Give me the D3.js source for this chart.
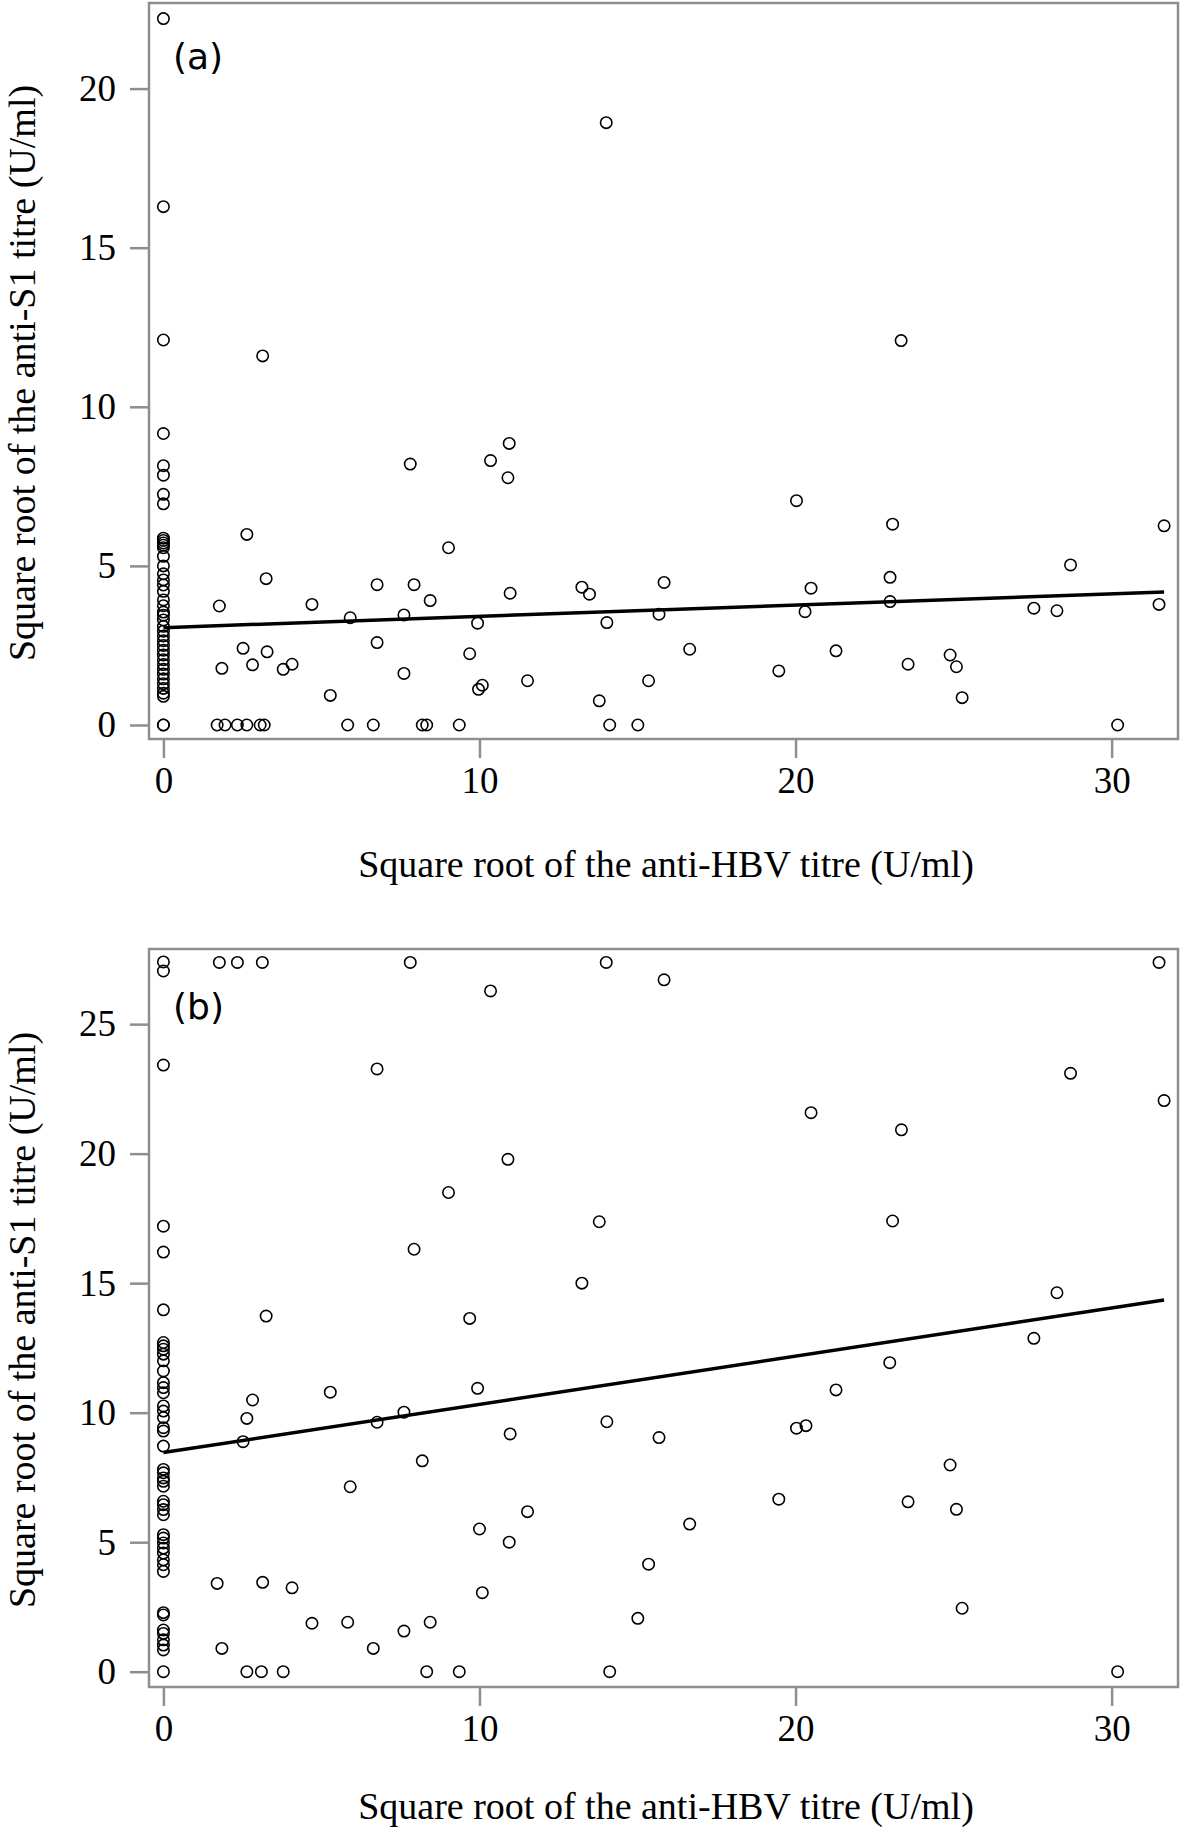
<!DOCTYPE html>
<html>
<head>
<meta charset="utf-8">
<script src="https://cdn.jsdelivr.net/npm/d3@7"></script>
<style>
  html, body { margin: 0; padding: 0; background: #fff; }
  svg { display: block; }
</style>
</head>
<body>
<div id="chart"></div>
<script>
// ---------- DATA ----------
const xTicks = [0, 10, 20, 30];
const yTicksA = [0, 5, 10, 15, 20];
const yTicksB = [0, 5, 10, 15, 20, 25];
const panelLabels = ["(a)", "(b)"];
const xTitle = "Square root of the anti-HBV titre (U/ml)";
const yTitle = "Square root of the anti-S1 titre (U/ml)";

// subjects with anti-HBV = 0 (x = 0 column)
const s1ZeroA = [22.2, 16.29, 12.1, 9.16, 8.15, 7.85, 7.25, 6.95, 5.87, 5.8, 5.72, 5.65, 5.57, 5.3, 5.0,
  4.75, 4.56, 4.4, 4.2, 3.93, 3.75, 3.55, 3.45, 3.3, 3.1, 2.95, 2.8, 2.65, 2.5, 2.35, 2.2, 2.05, 1.9,
  1.75, 1.6, 1.45, 1.3, 1.15, 1.0, 0.9, 0, 0];
const s1ZeroB = [27.4, 27.05, 23.42, 17.2, 16.2, 13.97, 12.71, 12.58, 12.45, 12.26, 12.0, 11.61, 11.16,
  10.97, 10.77, 10.26, 10.06, 9.81, 9.42, 9.29, 8.71, 7.81, 7.68, 7.48, 7.35, 7.16, 6.58, 6.45, 6.26,
  6.06, 5.29, 5.16, 4.97, 4.77, 4.58, 4.32, 4.13, 3.87, 2.28, 2.19, 1.61, 1.48, 1.23, 1.03, 0.84, 0];

// panel (a): anti-HBV > 0
const hbvA = [1.70, 1.77, 1.85, 1.95, 2.34, 2.52, 2.64, 2.64, 2.82, 3.06, 3.14, 3.19, 3.25, 3.28, 3.79,
  4.07, 4.70, 5.28, 5.83, 5.91, 6.64, 6.76, 6.76, 7.61, 7.61, 7.81, 7.93, 8.19, 8.33, 8.44, 9.02, 9.36,
  9.69, 9.94, 9.97, 10.09, 10.35, 10.90, 10.94, 10.97, 11.52, 13.24, 13.48, 13.79, 14.01, 14.03, 14.12,
  15.01, 15.35, 15.68, 15.84, 16.65, 19.47, 20.03, 20.30, 20.49, 21.28, 22.99, 22.99, 23.07, 23.34,
  23.56, 24.89, 25.09, 25.27, 27.54, 28.27, 28.70, 30.19, 31.50, 31.66];
const s1A = [0, 3.74, 1.78, 0, 0, 2.41, 5.99, 0, 1.89, 0, 11.6, 0, 4.6, 2.3, 1.75,
  1.91, 3.79, 0.93, 0, 3.37, 0, 4.41, 2.59, 3.46, 1.62, 8.2, 4.41, 0, 0, 3.91, 5.57, 0,
  2.24, 3.2, 1.12, 1.25, 8.31, 7.77, 8.85, 4.14, 1.39, 4.33, 4.11, 0.76, 18.93, 3.22, 0,
  0, 1.39, 3.48, 4.48, 2.38, 1.7, 7.05, 3.56, 4.3, 2.33, 4.64, 3.88, 6.31, 12.08,
  1.91, 2.2, 1.83, 0.86, 3.67, 3.59, 5.03, 0, 3.79, 6.26];

// panel (b): anti-HBV > 0
const hbvB = [1.70, 1.77, 1.85, 2.34, 2.52, 2.64, 2.64, 2.82, 3.10, 3.13, 3.14, 3.25, 3.79, 4.07, 4.70,
  5.28, 5.83, 5.91, 6.64, 6.76, 6.76, 7.61, 7.61, 7.81, 7.93, 8.19, 8.33, 8.44, 9.02, 9.36, 9.69, 9.94,
  10.00, 10.09, 10.35, 10.90, 10.94, 10.97, 11.52, 13.24, 13.79, 14.01, 14.03, 14.12, 15.01, 15.35,
  15.68, 15.84, 16.65, 19.47, 20.03, 20.33, 20.49, 21.28, 22.98, 23.07, 23.35, 23.56, 24.89, 25.09,
  25.27, 27.54, 28.27, 28.70, 30.19, 31.50, 31.66];
const s1B = [3.41, 27.38, 0.9, 27.38, 8.88, 9.78, 0, 10.49, 0, 27.38, 3.45, 13.73, 0, 3.24, 1.87,
  10.79, 1.91, 7.14, 0.9, 23.27, 9.63, 10.02, 1.57, 27.38, 16.31, 8.14, 0, 1.91, 18.5, 0, 13.64, 10.94,
  5.51, 3.05, 26.28, 19.78, 5.0, 9.18, 6.18, 15.0, 17.37, 27.38, 9.65, 0, 2.06, 4.15,
  9.04, 26.71, 5.7, 6.66, 9.4, 9.5, 21.58, 10.88, 11.93, 17.4, 20.92, 6.56, 7.98, 6.27,
  2.45, 12.87, 14.63, 23.1, 0, 27.38, 22.05];

// fitted regression lines (end points)
const fitX = [0, 31.66];
const fitA = [3.06, 4.18];
const fitB = [8.46, 14.35];

// ---------- DRAW ----------
const W = 1184, H = 1829;
const svg = d3.select("#chart").append("svg").attr("width", W).attr("height", H);
svg.append("rect").attr("width", W).attr("height", H).attr("fill", "#fff");

const frameColor = "#8e8e8e";
const serif = "'Liberation Serif', 'Times New Roman', serif";
const x = d3.scaleLinear().domain([-0.456, 32.1]).range([149, 1178]);

const panels = [
  { label: panelLabels[0], y: d3.scaleLinear().domain([-0.44, 22.69]).range([739, 3]),
    ticks: yTicksA, zero: s1ZeroA, hx: hbvA, hy: s1A, fit: fitA, labelY: 69, xTitleY: 877 },
  { label: panelLabels[1], y: d3.scaleLinear().domain([-0.59, 27.9]).range([1687, 949]),
    ticks: yTicksB, zero: s1ZeroB, hx: hbvB, hy: s1B, fit: fitB, labelY: 1019, xTitleY: 1819 }
];

panels.forEach(p => {
  const g = svg.append("g");
  const [yb, yt] = p.y.range();
  const [xl, xr] = x.range();

  // axes
  const ya = g.append("g").attr("transform", `translate(${xl},0)`)
    .call(d3.axisLeft(p.y).tickValues(p.ticks).tickSize(19).tickSizeOuter(0).tickPadding(14).tickFormat(d3.format("d")));
  const xa = g.append("g").attr("transform", `translate(0,${yb})`)
    .call(d3.axisBottom(x).tickValues(xTicks).tickSize(19).tickSizeOuter(0).tickPadding(9).tickFormat(d3.format("d")));
  [ya, xa].forEach(a => {
    a.select(".domain").remove();
    a.selectAll(".tick line").attr("stroke", frameColor).attr("stroke-width", 2.5);
    a.selectAll(".tick text").attr("fill", "#000").style("font-family", serif).style("font-size", "37px");
  });

  // frame
  g.append("rect").attr("x", xl).attr("y", yt).attr("width", xr - xl).attr("height", yb - yt)
    .attr("fill", "none").attr("stroke", frameColor).attr("stroke-width", 2.5);

  // points
  const pts = p.zero.map(v => [0, v]).concat(p.hx.map((v, i) => [v, p.hy[i]]));
  g.append("g").selectAll("circle").data(pts).join("circle")
    .attr("cx", d => x(d[0])).attr("cy", d => p.y(d[1])).attr("r", 5.7)
    .attr("fill", "none").attr("stroke", "#000").attr("stroke-width", 1.6);

  // regression line
  g.append("line")
    .attr("x1", x(fitX[0])).attr("y1", p.y(p.fit[0]))
    .attr("x2", x(fitX[1])).attr("y2", p.y(p.fit[1]))
    .attr("stroke", "#000").attr("stroke-width", 3.5);

  // panel label
  g.append("text").attr("x", 173).attr("y", p.labelY).text(p.label)
    .style("font-family", "'DejaVu Sans', Verdana, sans-serif").style("font-size", "36px").attr("fill", "#000");

  // axis titles
  g.append("text").attr("x", 666).attr("y", p.xTitleY).attr("text-anchor", "middle").text(xTitle)
    .style("font-family", serif).style("font-size", "38px").attr("fill", "#000");
  const cy = (yt + yb) / 2 + 2;
  g.append("text").attr("transform", `translate(35,${cy}) rotate(-90)`).attr("text-anchor", "middle").text(yTitle)
    .style("font-family", serif).style("font-size", "38px").attr("fill", "#000");
});
</script>
</body>
</html>
